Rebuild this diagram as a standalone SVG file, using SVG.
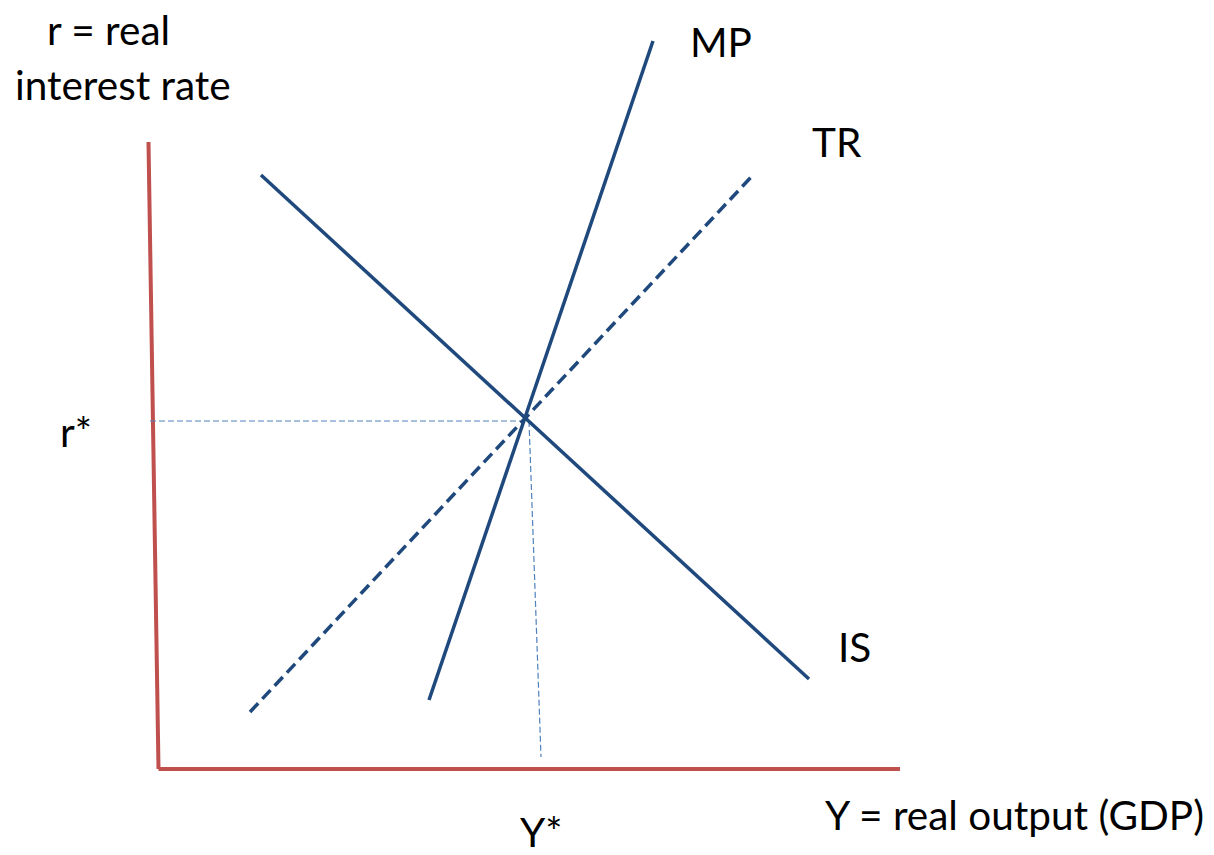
<svg xmlns="http://www.w3.org/2000/svg" width="1214" height="855" viewBox="0 0 1214 855">
<style>
.lbl{font-family:Lato,"Liberation Sans",sans-serif;font-size:40.5px;fill:#000}
.axis{stroke:#C0504D;stroke-width:4;fill:none}
.curve{stroke:#1F497D;stroke-width:3.5;fill:none}
.dash{stroke-dasharray:12 6}
.guide{stroke:#4F81BD;stroke-width:1.2;stroke-dasharray:6 3;fill:none}
</style>
<rect width="1214" height="855" fill="#fff"/>
<g id="axes">
<line class="axis" x1="148.5" y1="142" x2="158.5" y2="769"/>
<line class="axis" x1="158.5" y1="769" x2="900" y2="769"/>
</g>
<g id="connectors">
<line class="guide" x1="150" y1="421" x2="525" y2="421"/>
<line class="guide" x1="529" y1="421" x2="541" y2="757"/>
<line id="IS" class="curve" x1="261" y1="175" x2="809" y2="679"/>
<line id="MP" class="curve" x1="429" y1="700" x2="653" y2="41"/>
<line id="TR" class="curve dash" x1="250" y1="712" x2="754" y2="174"/>
</g>
<g id="labels">
<text class="lbl" x="47" y="45">r = real</text>
<text class="lbl" x="15" y="100">interest rate</text>
<text class="lbl" x="690" y="57">MP</text>
<text class="lbl" x="812" y="157">TR</text>
<text class="lbl" x="838" y="662">IS</text>
<text class="lbl" x="60" y="447">r*</text>
<text class="lbl" x="520" y="847">Y*</text>
<text class="lbl" x="825" y="830">Y = real output (GDP)</text>
</g>
</svg>
